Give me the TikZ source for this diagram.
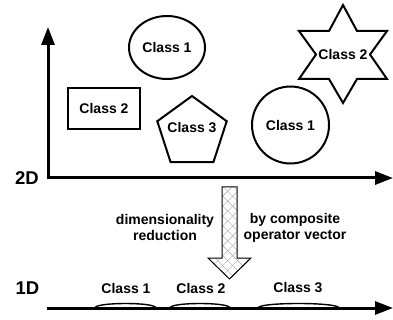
\documentclass[tikz,border=0pt]{standalone}
\usepackage{fontspec}
\setmainfont{Liberation Sans}
\usetikzlibrary{arrows.meta,shapes.geometric,patterns.meta}
\begin{document}
\begin{tikzpicture}[x=1pt,y=-1pt,
  lbl/.style={font=\fontsize{14}{16}\selectfont\bfseries, inner sep=0pt},
  dimlbl/.style={font=\fontsize{18.5}{20}\selectfont\bfseries, inner sep=0pt},
  cls/.style={draw, line width=2pt, inner sep=0pt, font=\fontsize{14}{16}\selectfont\bfseries},
  outline/.style={line width=2pt, line join=miter},
  axis/.style={line width=3pt, -{Triangle[length=18pt,width=13pt]}},
  bump/.style={line width=1.4pt}]
\useasboundingbox (0,0) rectangle (393,320);

% 2D axes
\coordinate (ytip) at (48,27);
\coordinate (xtip) at (393,178);
\draw[axis] (48,179.5) -- (ytip);
\draw[axis] (46.5,178) -- (xtip);
\node[dimlbl] (l2d) at (27,178) {2D};

% classes in the plane
\node[cls, ellipse, minimum width=76pt, minimum height=63pt] (c1a) at (167,47.5) {Class 1};
\node[cls, rectangle, minimum width=72pt, minimum height=41pt] (c2a) at (104,108.5) {Class 2};
\node[cls, regular polygon, regular polygon sides=5, minimum size=73pt] (c3a) at (192,132.5) {};
\node[lbl] (c3t) at (192,127.5) {Class 3};
\node[cls, circle, minimum size=77pt] (c1b) at (290.5,125) {Class 1};
% six-pointed star
\draw[outline] (343,5) -- (357,31) -- (387,31) -- (370,54.5) -- (387,79) -- (357,79)
  -- (343,103) -- (329,79) -- (299,79) -- (316,54.5) -- (299,31) -- (329,31) -- cycle;
\node[lbl] (c2t) at (343,54) {Class 2};

% hatched projection arrow
\def\arrowpath{(222,187) -- (222,258) -- (208,258) -- (229.5,279) -- (251,258) -- (237,258) -- (237,187) -- cycle}
\fill[white] \arrowpath;
\path[pattern={Lines[angle=45,distance=7pt,line width=0.4pt]}, pattern color=gray!70] \arrowpath;
\path[pattern={Lines[angle=-45,distance=7pt,line width=0.4pt]}, pattern color=gray!70] \arrowpath;
\draw[line width=1pt, line join=miter] \arrowpath;

\node[lbl, align=center] (dr) at (165,227.5) {dimensionality\\[0pt]reduction};
\node[lbl, align=center] (cov) at (295,227.5) {by composite\\[0pt]operator vector};

% 1D axis
\coordinate (o1) at (46.5,308);
\coordinate (x1tip) at (393,308);
\draw[axis] (o1) -- (x1tip);
\node[dimlbl] (l1d) at (27.5,288) {1D};

% class extents on the line
\draw[bump] (95,308) .. controls (95,302) and (156,302) .. (156,308);
\draw[bump] (170,308) .. controls (170,302) and (230,302) .. (230,308);
\draw[bump] (258,308) .. controls (258,302) and (339,302) .. (339,308);
\node[lbl] (p1) at (126,288) {Class 1};
\node[lbl] (p2) at (201,288) {Class 2};
\node[lbl] (p3) at (298,288) {Class 3};
\end{tikzpicture}
\end{document}
